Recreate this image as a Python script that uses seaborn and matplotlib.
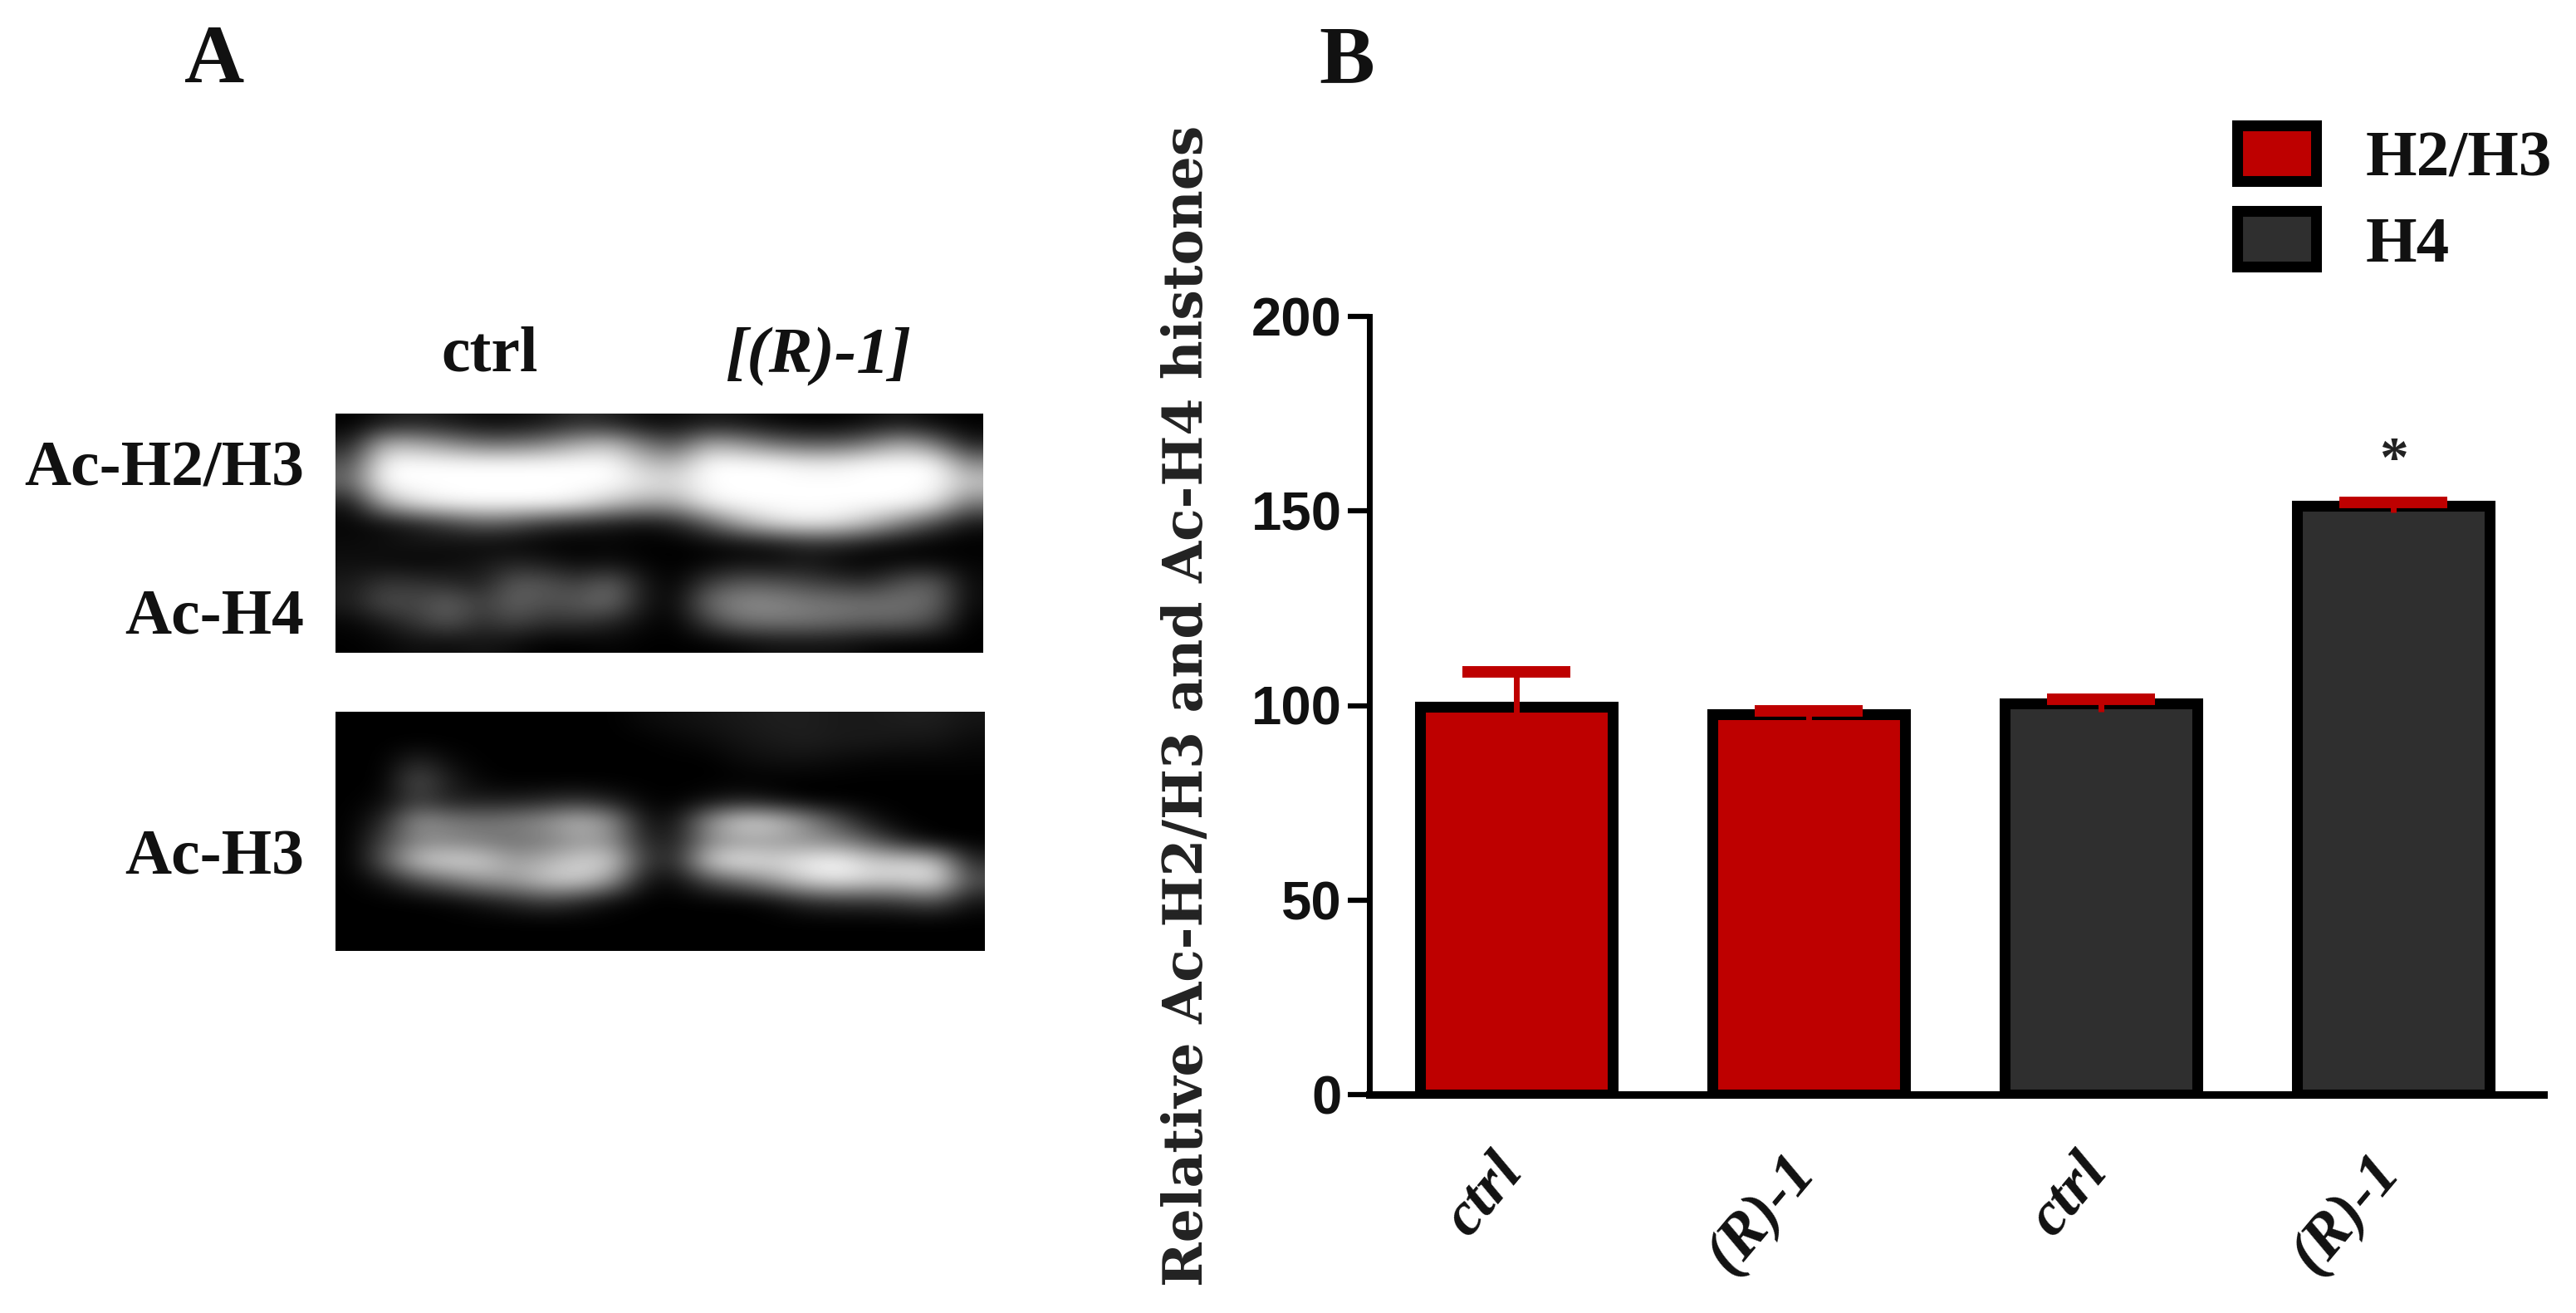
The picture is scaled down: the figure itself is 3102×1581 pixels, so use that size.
import numpy as np
import pandas as pd
import seaborn as sns
import matplotlib.pyplot as plt

W, H = 3102, 1581

# Chart data
bar_ids = ['a', 'b', 'c', 'd']
bar_labels = ['ctrl', '(R)-1', 'ctrl', '(R)-1']
series = ['H2/H3', 'H2/H3', 'H4', 'H4']
values = [99.6, 97.8, 100.6, 151.4]
err_up = [9.0, 0.8, 0.9, 0.7]
err_down = [1.8, 2.6, 2.2, 1.8]
y_ticks = [0, 50, 100, 150, 200]
colors = {'H2/H3': '#BE0000', 'H4': '#2F2F2F'}

# Blot intensities, coarse grid
blot_top = [
    [0, 20, 30, 20, 10, 10, 20, 40, 30, 10, 10, 20, 15, 5, 0, 0, 10, 20, 5, 0],
    [30, 180, 170, 140, 110, 110, 130, 170, 190, 120, 80, 170, 150, 110, 90, 90, 120, 170, 120, 30],
    [80, 250, 255, 255, 255, 255, 255, 255, 255, 200, 180, 255, 255, 255, 240, 240, 255, 255, 255, 140],
    [100, 255, 255, 255, 255, 255, 255, 255, 255, 230, 220, 255, 255, 255, 255, 255, 255, 255, 255, 200],
    [20, 170, 230, 250, 255, 255, 255, 240, 200, 170, 170, 240, 255, 255, 255, 255, 255, 255, 230, 120],
    [5, 10, 30, 60, 90, 80, 50, 35, 25, 15, 30, 90, 170, 220, 240, 230, 190, 130, 70, 20],
    [10, 15, 20, 15, 10, 5, 0, 0, 5, 0, 0, 5, 10, 20, 40, 40, 20, 5, 0, 0],
    [15, 10, 5, 10, 20, 35, 25, 10, 15, 5, 0, 5, 15, 10, 20, 5, 0, 10, 10, 5],
    [25, 55, 50, 40, 30, 90, 85, 60, 100, 25, 0, 60, 90, 85, 70, 55, 45, 85, 95, 10],
    [30, 80, 70, 100, 60, 100, 80, 90, 110, 25, 5, 110, 140, 140, 125, 120, 115, 115, 105, 10],
    [5, 25, 55, 85, 45, 70, 45, 50, 35, 10, 0, 60, 110, 115, 115, 105, 95, 95, 70, 0],
    [0, 5, 15, 10, 20, 10, 0, 0, 5, 0, 0, 0, 5, 15, 15, 15, 5, 0, 0, 0],
]
blot_bottom = [
    [0, 0, 0, 0, 0, 0, 0, 0, 0, 10, 15, 20, 25, 30, 30, 25, 25, 30, 30, 20],
    [0, 0, 0, 0, 0, 0, 0, 0, 0, 0, 5, 10, 20, 25, 30, 25, 25, 20, 20, 10],
    [0, 0, 40, 10, 0, 0, 0, 0, 0, 0, 0, 0, 10, 15, 15, 10, 5, 5, 5, 5],
    [0, 0, 85, 30, 5, 0, 0, 0, 0, 0, 0, 0, 0, 0, 0, 0, 0, 0, 0, 0],
    [0, 10, 60, 30, 30, 30, 40, 50, 30, 5, 0, 15, 30, 15, 0, 0, 0, 0, 0, 0],
    [0, 40, 150, 130, 120, 130, 150, 190, 150, 20, 20, 150, 220, 210, 150, 80, 20, 0, 0, 0],
    [0, 70, 130, 130, 120, 110, 120, 150, 140, 40, 30, 130, 150, 150, 140, 130, 90, 30, 0, 0],
    [0, 90, 200, 220, 210, 160, 180, 210, 210, 60, 40, 210, 240, 215, 240, 255, 210, 215, 200, 40],
    [0, 20, 70, 110, 150, 160, 200, 210, 150, 20, 10, 70, 110, 160, 210, 230, 210, 210, 230, 80],
    [0, 0, 0, 5, 20, 40, 60, 40, 10, 0, 0, 0, 0, 10, 40, 50, 50, 60, 80, 20],
    [0, 0, 0, 0, 0, 0, 0, 0, 0, 0, 0, 0, 0, 0, 0, 0, 0, 0, 0, 0],
    [0, 0, 0, 0, 0, 0, 0, 0, 0, 0, 0, 0, 0, 0, 0, 0, 0, 0, 0, 0],
]

sns.set_theme(style='white')
serif = 'Liberation Serif'
sans = 'Liberation Sans'


def px_box(x0, y0, x1, y1):
    return [x0 / W, 1 - y1 / H, (x1 - x0) / W, (y1 - y0) / H]


def fig_text(x, y, s, **kw):
    fig.text(x / W, 1 - y / H, s, family=serif, weight='bold', color='#111111', **kw)


fig = plt.figure(figsize=(W / 100, H / 100), dpi=100, facecolor='white')

# Panel A, the blots
for grid, box in [(blot_top, (404, 498, 1184, 786)), (blot_bottom, (404, 857, 1186, 1145))]:
    ax_blot = fig.add_axes(px_box(*box))
    ax_blot.imshow(np.array(grid), cmap='gray', vmin=0, vmax=255, aspect='auto', interpolation='bicubic')
    ax_blot.axis('off')

fig_text(590, 428, 'ctrl', fontsize=56, ha='center', va='center')
fig_text(985, 430, '[(R)-1]', fontsize=57, ha='center', va='center', style='italic')
fig_text(366, 566, 'Ac-H2/H3', fontsize=56, ha='right', va='center')
fig_text(366, 744, 'Ac-H4', fontsize=56, ha='right', va='center')
fig_text(366, 1034, 'Ac-H3', fontsize=56, ha='right', va='center')
fig_text(258, 75, 'A', fontsize=72, ha='center', va='center')
fig_text(1622, 75, 'B', fontsize=72, ha='center', va='center')

# Panel B, the bars
ax = fig.add_axes(px_box(1649, 381, 3063, 1318))
df = pd.DataFrame({'bar': bar_ids, 'value': values, 'series': series})
sns.barplot(data=df, x='bar', y='value', hue='series', palette=colors, dodge=False, width=0.66, saturation=1,
            edgecolor='black', linewidth=9.4, ax=ax, legend=False)

# stem goes both ways, cap only on the top end
tops = np.array(values) + np.array(err_up)
ax.errorbar(range(4), values, yerr=[err_down, err_up], fmt='none', ecolor='#BE0000', elinewidth=5, zorder=6)
ax.plot(range(4), tops, linestyle='none', marker='_', markersize=94, markeredgewidth=10, color='#BE0000', zorder=6)

ax.set_xlim(-0.503, 3.514)
ax.set_ylim(0, 200)
ax.set_yticks(y_ticks)
ax.set_yticklabels([str(v) for v in y_ticks], family=sans, weight='bold', fontsize=47, color='#111111')
ax.set_xticks(range(4))
ax.set_xticklabels([])
# tick labels sit left of the bar centres, tick pad cannot do that
for i, lab in enumerate(bar_labels):
    ax.annotate(lab, xy=(i, 0), xycoords=('data', 'axes fraction'), xytext=(-22, -43), textcoords='offset points',
                family=serif, weight='bold', style='italic', fontsize=54, color='#111111',
                rotation=50, ha='right', va='top', rotation_mode='anchor', annotation_clip=False)
ax.set_xlabel('')
ax.set_ylabel('')
ax.tick_params(axis='y', length=19, width=4.5, color='black', pad=5, left=True)
ax.tick_params(axis='x', length=0)
sns.despine(ax=ax)
ax.spines['left'].set_linewidth(5)
ax.spines['left'].set_color('black')
ax.spines['bottom'].set_linewidth(6.5)
ax.spines['bottom'].set_color('black')
ax.spines['bottom'].set_zorder(5)

ax.text(3, 162.5, '*', family=serif, weight='bold', fontsize=50, ha='center', va='center', color='#222222')

fig.text(1430 / W, 1 - 850 / H, 'Relative Ac-H2/H3 and Ac-H4 histones', rotation=90, ha='center', va='center',
         family='DejaVu Serif', weight='bold', fontsize=46.5, color='#222222')

# Legend
handles = [plt.Rectangle((0, 0), 1, 1, facecolor=colors[s], edgecolor='black', linewidth=9.4)
           for s in ['H2/H3', 'H4']]
leg = fig.legend(handles, ['H2/H3', 'H4'], loc='upper left', bbox_to_anchor=(2678 / W, 1 - 135 / H), frameon=False,
                 prop={'family': serif, 'weight': 'bold', 'size': 57}, handlelength=1.2, handleheight=0.93,
                 labelspacing=0.32, handletextpad=0.76, borderpad=0.2, borderaxespad=0)
for t in leg.get_texts():
    t.set_color('#111111')

plt.savefig('out.png', dpi=100)
